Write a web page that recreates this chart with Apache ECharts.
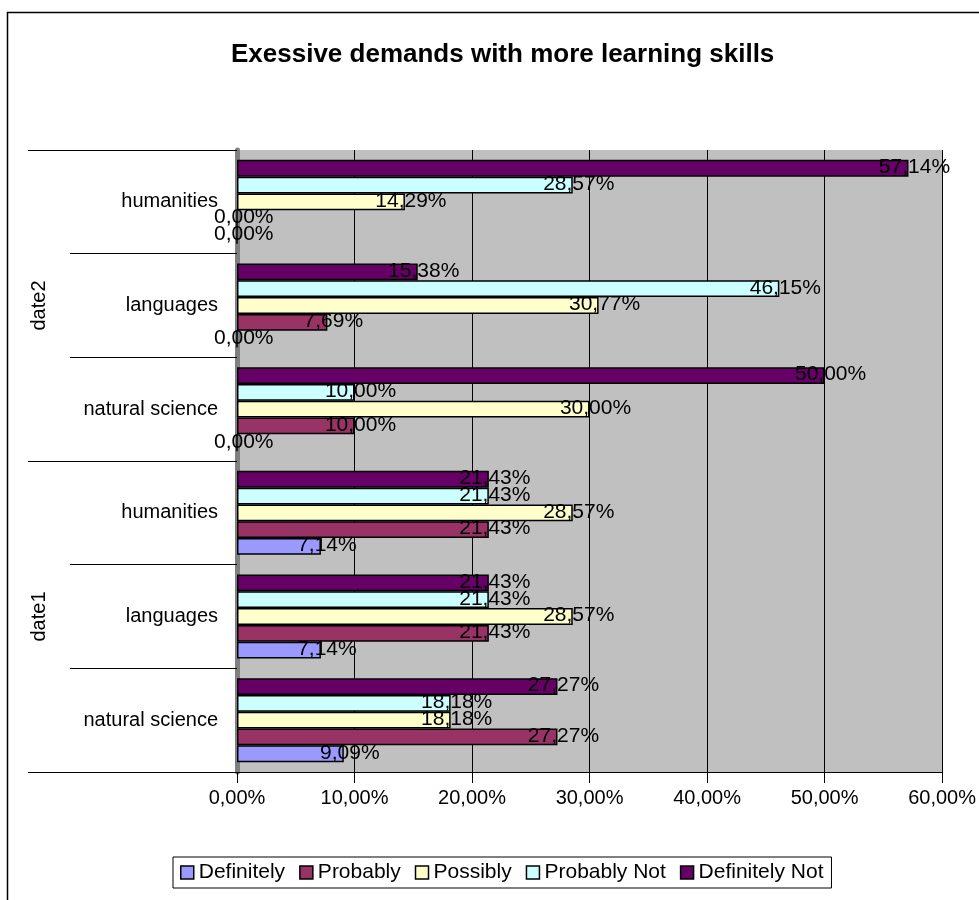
<!DOCTYPE html>
<html>
<head>
<meta charset="utf-8">
<script src="https://cdn.jsdelivr.net/npm/echarts@6/dist/echarts.min.js"></script>
<style>html,body{margin:0;padding:0;background:#fff}#c{width:979px;height:900px}</style>
</head>
<body>
<div id="c"></div>
<script>
// Categories from bottom to top
const subCategories = ['natural science', 'languages', 'humanities', 'natural science', 'languages', 'humanities'];
const groupCategories = ['date1', 'date2'];
const seriesNames = ['Definitely', 'Probably', 'Possibly', 'Probably Not', 'Definitely Not'];
const seriesColors = ['#9999FF', '#993366', '#FFFFCC', '#CCFFFF', '#660066'];
// values in percent, per series, in category order above
const definitely    = [9.09, 7.14, 7.14, 0.00, 0.00, 0.00];
const probably      = [27.27, 21.43, 21.43, 10.00, 7.69, 0.00];
const possibly      = [18.18, 28.57, 28.57, 30.00, 30.77, 14.29];
const probablyNot   = [18.18, 21.43, 21.43, 10.00, 46.15, 28.57];
const definitelyNot = [27.27, 21.43, 21.43, 50.00, 15.38, 57.14];
const seriesValues = [definitely, probably, possibly, probablyNot, definitelyNot];
const xTicks = [0, 10, 20, 30, 40, 50, 60];

const FONT = '"Liberation Sans", Arial, sans-serif';
const fmt = v => Number(v).toFixed(2).replace('.', ',') + '%';

const chart = echarts.init(document.getElementById('c'), null, {renderer: 'canvas'});

// ECharts lays grouped horizontal bars top-down by series order, so add them reversed
const series = seriesNames.map((name, i) => ({
  name: name,
  type: 'bar',
  xAxisIndex: 0,
  yAxisIndex: 0,
  data: seriesValues[i],
  barGap: '0%',
  barCategoryGap: '19%',
  itemStyle: {color: seriesColors[i], borderColor: '#000', borderWidth: 1.5},
  label: {
    show: true,
    position: ['100%', '50%'],
    align: 'center',
    verticalAlign: 'middle',
    offset: [6, -1],
    formatter: p => fmt(p.value),
    color: '#000',
    fontFamily: FONT,
    fontSize: 21
  },
  emphasis: {disabled: true},
  animation: false
})).reverse();

chart.setOption({
  animation: false,
  backgroundColor: '#fff',
  title: {
    text: 'Exessive demands with more learning skills',
    left: 231, top: 42, padding: 0,
    textStyle: {fontFamily: FONT, fontSize: 26, fontWeight: 'bold', color: '#000'}
  },
  legend: {
    data: seriesNames,
    left: 173, top: 857,
    padding: [5, 8, 5, 7],
    borderColor: '#000', borderWidth: 1,
    itemWidth: 13, itemHeight: 13, itemGap: 14,
    icon: 'rect',
    itemStyle: {borderColor: '#000', borderWidth: 1.5},
    textStyle: {fontFamily: FONT, fontSize: 21, color: '#000'},
    selectedMode: false
  },
  grid: {
    left: 237, right: 28, top: 150, bottom: 128,
    show: true, backgroundColor: '#C0C0C0', borderWidth: 0,
    containLabel: false
  },
  xAxis: [{
    type: 'value', min: 0, max: 60, interval: 10,
    axisLine: {show: true, lineStyle: {color: '#000', width: 1}},
    axisTick: {show: true, length: 11, lineStyle: {color: '#000'}},
    axisLabel: {margin: 16, formatter: v => fmt(v), fontFamily: FONT, fontSize: 20, color: '#000'},
    splitLine: {show: true, lineStyle: {color: '#000', width: 1}}
  }],
  yAxis: [{
    type: 'category', data: subCategories, position: 'left',
    axisLine: {show: true, lineStyle: {color: '#808080', width: 5}},
    axisTick: {show: true, length: 167, lineStyle: {color: '#000', width: 1}},
    axisLabel: {margin: 19, fontFamily: FONT, fontSize: 20, color: '#000'},
    splitLine: {show: false}
  }, {
    type: 'category', data: groupCategories, position: 'left', gridIndex: 0,
    axisLine: {show: false},
    axisTick: {show: true, length: 209, lineStyle: {color: '#000', width: 1}},
    axisLabel: {rotate: 90, margin: 188, fontFamily: FONT, fontSize: 20, color: '#000'},
    splitLine: {show: false}
  }],
  graphic: [{
    type: 'rect', silent: true, z: -1,
    shape: {x: 7.5, y: 12.5, width: 1100, height: 1100},
    style: {fill: 'none', stroke: '#000', lineWidth: 1.5}
  }],
  series: series
});
</script>
</body>
</html>
